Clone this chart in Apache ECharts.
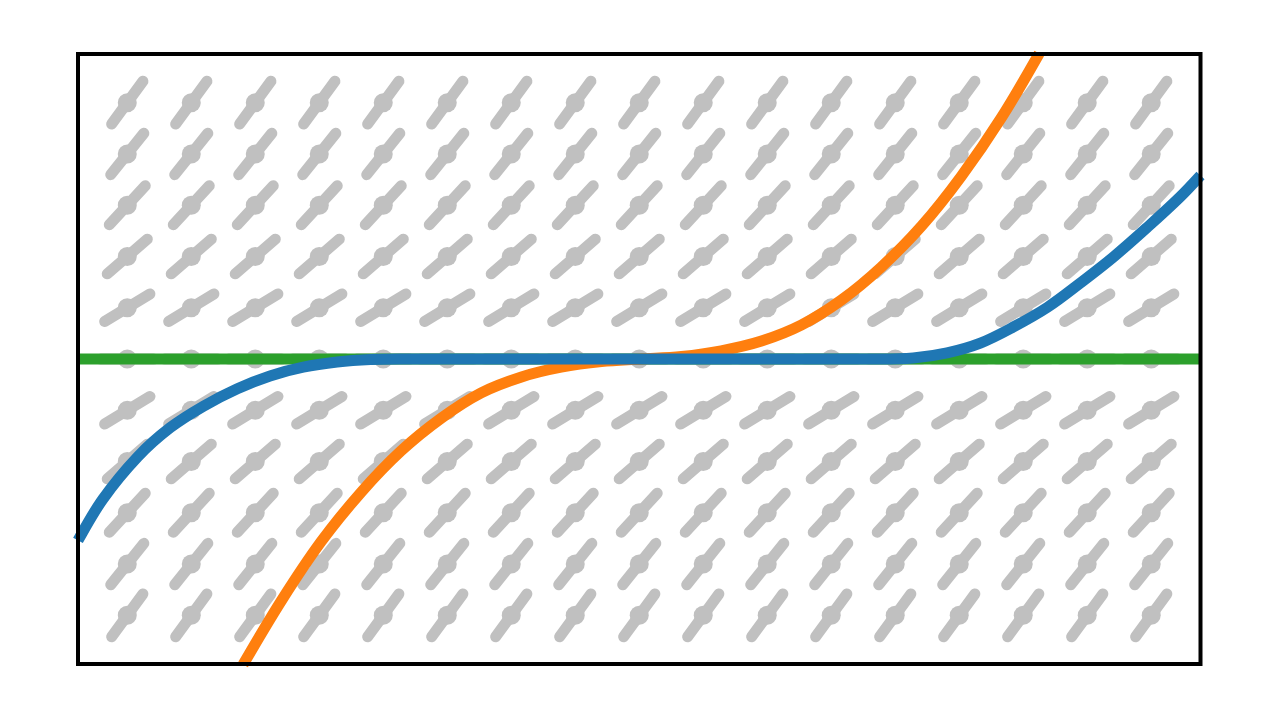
<!DOCTYPE html>
<html>
<head>
<meta charset="utf-8">
<script src="https://cdn.jsdelivr.net/npm/echarts@6/dist/echarts.min.js"></script>
<style>html,body{margin:0;padding:0;background:#fff;}#chart{width:1280px;height:720px;}</style>
</head>
<body>
<div id="chart"></div>
<script>
// Slope-field grid (column x positions, row y positions) and slope read per row
const fieldX = [-8,-7,-6,-5,-4,-3,-2,-1,0,1,2,3,4,5,6,7,8];
const fieldY = [-5,-4,-3,-2,-1,0,1,2,3,4,5];
const rowSlopes = [1.71,1.56,1.35,1.08,0.76,0,0.76,1.08,1.35,1.56,1.71];

// Equilibrium solution (green)
const greenX = [-8.77, 8.77];
const greenY = [0, 0];

// Orange solution curve
const orangeX = [-6.19,-5.59,-4.97,-4.34,-3.72,-3.09,-2.47,-1.84,-1.22,-0.59,0.03,0.66,1.28,1.91,2.53,3.16,3.78,4.41,5.03,5.66,6.25];
const orangeY = [-5.96,-4.71,-3.56,-2.59,-1.79,-1.15,-0.66,-0.35,-0.16,-0.05,0,0.05,0.16,0.35,0.66,1.15,1.79,2.59,3.56,4.71,5.96];

// Blue piecewise solution curve
const blueX = [-8.77,-8.38,-7.84,-7.33,-6.81,-6.28,-5.77,-5.25,-4.72,-4.20,-3.73,3.77,4.28,4.81,5.33,5.84,6.38,6.89,7.41,7.94,8.45,8.77];
const blueY = [-3.54,-2.73,-1.91,-1.34,-0.92,-0.58,-0.33,-0.16,-0.06,-0.01,0,0,0.02,0.12,0.31,0.62,1.01,1.48,1.99,2.57,3.16,3.58];

const fieldData = [];
fieldY.forEach((y, i) => fieldX.forEach(x => fieldData.push([x, y, rowSlopes[i]])));
const zip = (a, b) => a.map((v, i) => [v, b[i]]);

const HALF = 26.5, GRAY = '#c0c0c0';
const chart = echarts.init(document.getElementById('chart'));
chart.setOption({
  animation: false,
  backgroundColor: '#ffffff',
  grid: {left: 78, right: 79.5, top: 54, bottom: 56, show: true, borderColor: '#000', borderWidth: 4, backgroundColor: 'transparent', z: 10},
  xAxis: {type: 'value', min: -8.77, max: 8.77, axisLine: {show: false}, axisTick: {show: false}, axisLabel: {show: false}, splitLine: {show: false}},
  yAxis: {type: 'value', min: -5.95, max: 5.95, axisLine: {show: false}, axisTick: {show: false}, axisLabel: {show: false}, splitLine: {show: false}},
  series: [
    {
      type: 'custom', z: 1, data: fieldData,
      renderItem: function (params, api) {
        const x = api.value(0), y = api.value(1), s = api.value(2);
        const c = api.coord([x, y]);
        const d = api.coord([x + 1, y + s]);
        let vx = d[0] - c[0], vy = d[1] - c[1];
        const L = Math.hypot(vx, vy);
        vx = vx / L * HALF; vy = vy / L * HALF;
        return {type: 'group', children: [
          {type: 'line', shape: {x1: c[0] - vx, y1: c[1] - vy, x2: c[0] + vx, y2: c[1] + vy}, style: {stroke: GRAY, lineWidth: 11, lineCap: 'round'}},
          {type: 'circle', shape: {cx: c[0], cy: c[1], r: 9.5}, style: {fill: GRAY}}
        ]};
      }
    },
    {type: 'line', z: 2, data: zip(greenX, greenY), showSymbol: false, lineStyle: {color: '#2ca02c', width: 11}},
    {type: 'line', z: 3, data: zip(orangeX, orangeY), showSymbol: false, smooth: 0.35, lineStyle: {color: '#ff7f0e', width: 11}},
    {type: 'line', z: 4, data: zip(blueX, blueY), showSymbol: false, smooth: 0.35, lineStyle: {color: '#1f77b4', width: 11}}
  ]
});
</script>
</body>
</html>
